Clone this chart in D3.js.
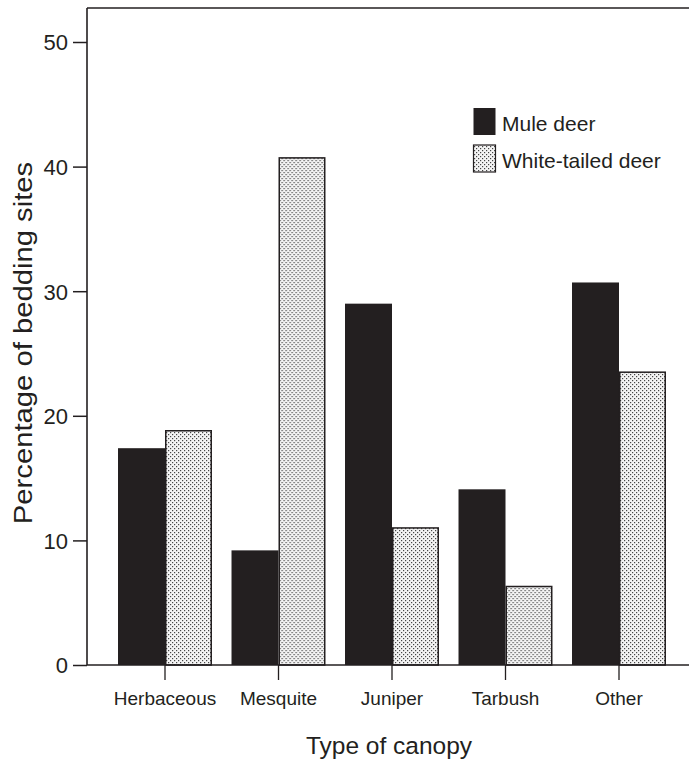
<!DOCTYPE html>
<html>
<head>
<meta charset="utf-8">
<script src="https://cdn.jsdelivr.net/npm/d3@7"></script>
<style>
  html, body { margin: 0; padding: 0; background: #fff; }
  svg { display: block; font-family: "Liberation Sans", Arial, Helvetica, sans-serif; }
</style>
</head>
<body>
<svg id="chart" width="689" height="763"></svg>
<script>
const categories = ["Herbaceous", "Mesquite", "Juniper", "Tarbush", "Other"];
const seriesNames = ["Mule deer", "White-tailed deer"];
const muleDeer = [17.4, 9.2, 29.0, 14.1, 30.7];
const whiteTailedDeer = [18.8, 40.7, 11.0, 6.3, 23.5];
const yTicks = [0, 10, 20, 30, 40, 50];
const xTitle = "Type of canopy";
const yTitle = "Percentage of bedding sites";

const svg = d3.select("#chart");
const ink = "#231f20";

// stipple pattern
const defs = svg.append("defs");
const pat = defs.append("pattern")
  .attr("id", "stipple").attr("patternUnits", "userSpaceOnUse")
  .attr("width", 4).attr("height", 4);
pat.append("rect").attr("width", 4).attr("height", 4).attr("fill", "#f4f4f4");
pat.append("rect").attr("x", 0).attr("y", 0).attr("width", 1.2).attr("height", 1.2).attr("fill", "#444");
pat.append("rect").attr("x", 2).attr("y", 2).attr("width", 1.2).attr("height", 1.2).attr("fill", "#444");

const y = d3.scaleLinear().domain([0, 50]).range([665, 42]);
const x0 = d3.scaleBand().domain(categories).range([108.25, 675.75])
  .paddingInner(0.172).paddingOuter(0.086);
const x1 = d3.scaleBand().domain(seriesNames).range([0, x0.bandwidth()]);

const data = categories.map((c, i) => ({
  cat: c,
  vals: [
    { s: seriesNames[0], v: muleDeer[i] },
    { s: seriesNames[1], v: whiteTailedDeer[i] }
  ]
}));

// bars
const groups = svg.append("g").selectAll("g").data(data).join("g")
  .attr("transform", d => `translate(${x0(d.cat)},0)`);
groups.selectAll("rect").data(d => d.vals).join("rect")
  .attr("x", d => x1(d.s) + (d.s === seriesNames[1] ? 0.75 : 0))
  .attr("y", d => y(d.v))
  .attr("width", d => x1(d.s) === 0 ? x1.bandwidth() : x1.bandwidth() - 1.5)
  .attr("height", d => y(0) - y(d.v))
  .attr("fill", d => d.s === seriesNames[0] ? ink : "url(#stipple)")
  .attr("stroke", d => d.s === seriesNames[0] ? "none" : ink)
  .attr("stroke-width", 1.5);

// frame: top and left
const xLeft = 87;
svg.append("line").attr("x1", xLeft).attr("x2", 689).attr("y1", 8).attr("y2", 8)
  .attr("stroke", ink).attr("stroke-width", 1.6);

// y axis
const yAxis = svg.append("g").attr("transform", `translate(${xLeft},0)`)
  .call(d3.axisLeft(y).tickValues(yTicks).tickSize(14).tickPadding(5).tickFormat(d3.format("d")));
yAxis.select(".domain").remove();
yAxis.selectAll(".tick line").attr("stroke", ink).attr("stroke-width", 1.5);
yAxis.selectAll(".tick text").attr("font-size", 22).attr("fill", ink)
  .attr("font-family", "'Liberation Sans', Arial, sans-serif")
  .attr("dy", "0.36em");
svg.append("line").attr("x1", xLeft).attr("x2", xLeft).attr("y1", 8).attr("y2", y(0))
  .attr("stroke", ink).attr("stroke-width", 1.6);

// x axis
const xAxis = svg.append("g").attr("transform", `translate(0,${y(0)})`)
  .call(d3.axisBottom(x0).tickSize(15).tickPadding(12));
xAxis.select(".domain").remove();
xAxis.selectAll(".tick line").attr("stroke", ink).attr("stroke-width", 1.3);
xAxis.selectAll(".tick text").attr("font-size", 19).attr("fill", ink)
  .attr("font-family", "'Liberation Sans', Arial, sans-serif");
svg.append("line").attr("x1", xLeft).attr("x2", 689).attr("y1", y(0)).attr("y2", y(0))
  .attr("stroke", ink).attr("stroke-width", 1.6);

// axis titles
svg.append("text").attr("x", 389).attr("y", 754).attr("text-anchor", "middle")
  .attr("font-size", 24.5).attr("fill", ink).text(xTitle);
svg.append("text")
  .attr("transform", "translate(32,343) rotate(-90) scale(1.17,1)")
  .attr("text-anchor", "middle").attr("font-size", 25).attr("fill", ink).text(yTitle);

// legend
const legend = svg.append("g");
seriesNames.forEach((s, i) => {
  const ly = 108 + i * 37;
  legend.append("rect").attr("x", 473.5).attr("y", ly).attr("width", 22).attr("height", 27)
    .attr("fill", i === 0 ? ink : "url(#stipple)")
    .attr("stroke", i === 0 ? "none" : ink).attr("stroke-width", 1.2);
  legend.append("text").attr("x", 502).attr("y", ly + 23)
    .attr("font-size", 21).attr("fill", ink).text(s);
});
</script>
</body>
</html>
